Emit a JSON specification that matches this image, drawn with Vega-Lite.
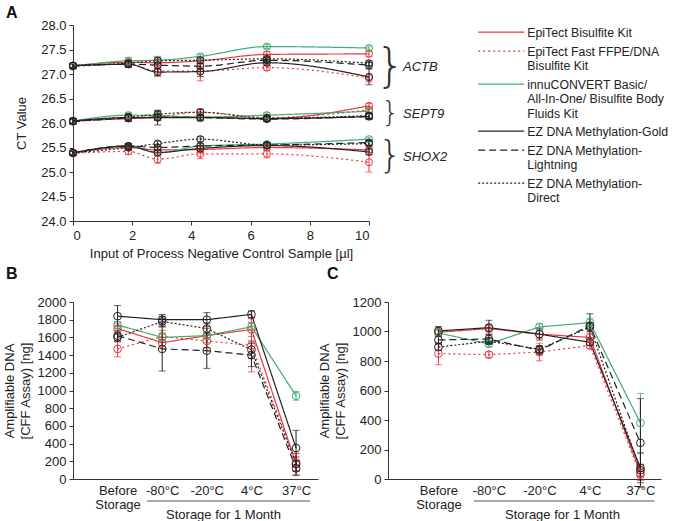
{
  "$schema": "https://vega.github.io/schema/vega-lite/v6.json",
  "padding": {"left": 3, "top": 5, "right": 0, "bottom": 0},
  "title": {"text": "A", "anchor": "start", "frame": "bounds", "fontSize": 16, "fontWeight": "bold", "font": "Liberation Sans", "offset": -2, "dx": 3, "color": "#111"},
  "config": {
    "font": "Liberation Sans",
    "view": {"stroke": null},
    "axis": {"labelFont": "Liberation Sans", "titleFont": "Liberation Sans", "labelFontSize": 13, "titleFontSize": 13, "titleFontWeight": "normal", "labelColor": "#222", "titleColor": "#222", "domainColor": "#333", "tickColor": "#333", "grid": false, "tickSize": 4, "labelLineHeight": 14, "titleLineHeight": 16, "labelOverlap": false},
    "legend": {"labelFont": "Liberation Sans", "labelFontSize": 12.3, "labelColor": "#222", "labelLimit": 300}
  },
  "datasets": {
    "ctA": [
      {"kit": "EpiTect Bisulfite Kit", "gene": "ACTB", "input": [0,1.87,2.86,4.3,6.55,10], "ct": [27.17,27.24,27.23,27.27,27.4,27.41], "err": [0.04,0.06,0.13,0.06,0.06,0.05]},
      {"kit": "EpiTect Bisulfite Kit", "gene": "SEPT9", "input": [0,1.87,2.86,4.3,6.55,10], "ct": [26.04,26.09,26.11,26.12,26.09,26.35], "err": [0.05,0.06,0.06,0.05,0.05,0.05]},
      {"kit": "EpiTect Bisulfite Kit", "gene": "SHOX2", "input": [0,1.87,2.86,4.3,6.55,10], "ct": [25.39,25.5,25.45,25.46,25.5,25.45], "err": [0.04,0.05,0.06,0.06,0.06,0.05]},
      {"kit": "EpiTect Fast FFPE/DNA Bisulfite Kit", "gene": "ACTB", "input": [0,1.87,2.86,4.3,6.55,10], "ct": [27.15,27.2,27.06,27.06,27.13,26.92], "err": [0.04,0.07,0.1,0.2,0.06,0.08]},
      {"kit": "EpiTect Fast FFPE/DNA Bisulfite Kit", "gene": "SEPT9", "input": [0,1.87,2.86,4.3,6.55,10], "ct": [26.03,26.1,26.13,26.22,26.11,26.27], "err": [0.06,0.07,0.07,0.06,0.06,0.06]},
      {"kit": "EpiTect Fast FFPE/DNA Bisulfite Kit", "gene": "SHOX2", "input": [0,1.87,2.86,4.3,6.55,10], "ct": [25.38,25.42,25.26,25.37,25.37,25.2], "err": [0.04,0.06,0.08,0.1,0.08,0.2]},
      {"kit": "innuCONVERT Basic/ All-In-One/ Bisulfite Body Fluids Kit", "gene": "ACTB", "input": [0,1.87,2.86,4.3,6.55,10], "ct": [27.15,27.27,27.28,27.36,27.56,27.53], "err": [0.06,0.07,0.06,0.04,0.04,0.04]},
      {"kit": "innuCONVERT Basic/ All-In-One/ Bisulfite Body Fluids Kit", "gene": "SEPT9", "input": [0,1.87,2.86,4.3,6.55,10], "ct": [26.04,26.16,26.15,26.12,26.16,26.24], "err": [0.05,0.05,0.1,0.05,0.05,0.05]},
      {"kit": "innuCONVERT Basic/ All-In-One/ Bisulfite Body Fluids Kit", "gene": "SHOX2", "input": [0,1.87,2.86,4.3,6.55,10], "ct": [25.39,25.53,25.39,25.53,25.57,25.67], "err": [0.04,0.04,0.05,0.05,0.04,0.04]},
      {"kit": "EZ DNA Methylation-Gold", "gene": "ACTB", "input": [0,1.87,2.86,4.3,6.55,10], "ct": [27.17,27.2,27.04,27.05,27.23,26.94], "err": [0.05,0.06,0.08,0.1,0.06,0.16]},
      {"kit": "EZ DNA Methylation-Gold", "gene": "SEPT9", "input": [0,1.87,2.86,4.3,6.55,10], "ct": [26.04,26.11,26.11,26.11,26.09,26.13], "err": [0.06,0.08,0.15,0.07,0.06,0.06]},
      {"kit": "EZ DNA Methylation-Gold", "gene": "SHOX2", "input": [0,1.87,2.86,4.3,6.55,10], "ct": [25.39,25.53,25.4,25.48,25.54,25.41], "err": [0.04,0.05,0.06,0.05,0.05,0.06]},
      {"kit": "EZ DNA Methylation-Lightning", "gene": "ACTB", "input": [0,1.87,2.86,4.3,6.55,10], "ct": [27.17,27.2,27.18,27.16,27.28,27.18], "err": [0.04,0.05,0.06,0.05,0.05,0.06]},
      {"kit": "EZ DNA Methylation-Lightning", "gene": "SEPT9", "input": [0,1.87,2.86,4.3,6.55,10], "ct": [26.03,26.1,26.12,26.11,26.08,26.14], "err": [0.05,0.06,0.06,0.05,0.05,0.05]},
      {"kit": "EZ DNA Methylation-Lightning", "gene": "SHOX2", "input": [0,1.87,2.86,4.3,6.55,10], "ct": [25.39,25.53,25.5,25.53,25.55,25.6], "err": [0.04,0.05,0.05,0.05,0.05,0.05]},
      {"kit": "EZ DNA Methylation-Direct", "gene": "ACTB", "input": [0,1.87,2.86,4.3,6.55,10], "ct": [27.17,27.22,27.27,27.28,27.31,27.22], "err": [0.04,0.05,0.06,0.06,0.05,0.05]},
      {"kit": "EZ DNA Methylation-Direct", "gene": "SEPT9", "input": [0,1.87,2.86,4.3,6.55,10], "ct": [26.04,26.12,26.18,26.22,26.1,26.15], "err": [0.04,0.05,0.06,0.06,0.05,0.05]},
      {"kit": "EZ DNA Methylation-Direct", "gene": "SHOX2", "input": [0,1.87,2.86,4.3,6.55,10], "ct": [25.39,25.5,25.58,25.67,25.55,25.58], "err": [0.04,0.05,0.05,0.05,0.05,0.05]}
    ],
    "braces": [
      {"gene": "ACTB", "ct": 27.14},
      {"gene": "SEPT9", "ct": 26.19},
      {"gene": "SHOX2", "ct": 25.3}
    ],
    "amtB": [
      {"kit": "EpiTect Bisulfite Kit", "storage": ["Before Storage","-80°C","-20°C","4°C","37°C"], "dna": [1700,1540,1620,1690,170], "err": [60,60,80,80,120]},
      {"kit": "EpiTect Fast FFPE/DNA Bisulfite Kit", "storage": ["Before Storage","-80°C","-20°C","4°C","37°C"], "dna": [1470,1610,1560,1510,190], "err": [90,70,80,300,100]},
      {"kit": "innuCONVERT Basic/ All-In-One/ Bisulfite Body Fluids Kit", "storage": ["Before Storage","-80°C","-20°C","4°C","37°C"], "dna": [1740,1600,1620,1720,940], "err": [40,50,40,40,50]},
      {"kit": "EZ DNA Methylation-Gold", "storage": ["Before Storage","-80°C","-20°C","4°C","37°C"], "dna": [1840,1800,1800,1860,350], "err": [120,60,80,40,200]},
      {"kit": "EZ DNA Methylation-Lightning", "storage": ["Before Storage","-80°C","-20°C","4°C","37°C"], "dna": [1620,1470,1450,1400,120], "err": [60,250,200,130,80]},
      {"kit": "EZ DNA Methylation-Direct", "storage": ["Before Storage","-80°C","-20°C","4°C","37°C"], "dna": [1600,1780,1700,1460,170], "err": [50,60,60,100,80]}
    ],
    "amtC": [
      {"kit": "EpiTect Bisulfite Kit", "storage": ["Before Storage","-80°C","-20°C","4°C","37°C"], "dna": [995,1020,982,960,40], "err": [30,30,30,30,30]},
      {"kit": "EpiTect Fast FFPE/DNA Bisulfite Kit", "storage": ["Before Storage","-80°C","-20°C","4°C","37°C"], "dna": [850,843,861,905,30], "err": [75,20,60,20,40]},
      {"kit": "innuCONVERT Basic/ All-In-One/ Bisulfite Body Fluids Kit", "storage": ["Before Storage","-80°C","-20°C","4°C","37°C"], "dna": [990,916,1031,1060,380], "err": [20,20,20,30,200]},
      {"kit": "EZ DNA Methylation-Gold", "storage": ["Before Storage","-80°C","-20°C","4°C","37°C"], "dna": [1004,1026,982,927,75], "err": [30,50,40,20,100]},
      {"kit": "EZ DNA Methylation-Lightning", "storage": ["Before Storage","-80°C","-20°C","4°C","37°C"], "dna": [943,949,872,1040,245], "err": [25,30,30,80,300]},
      {"kit": "EZ DNA Methylation-Direct", "storage": ["Before Storage","-80°C","-20°C","4°C","37°C"], "dna": [894,935,880,1030,60], "err": [20,20,20,30,40]}
    ]
  },
  "spacing": 6,
  "align": "none",
  "resolve": {"legend": {"color": "independent", "strokeDash": "independent"}},
  "vconcat": [
    {
      "width": 296,
      "height": 196,
      "layer": [
        {
          "data": {"name": "ctA"},
          "transform": [{"flatten": ["input", "ct", "err"]}],
          "encoding": {
            "x": {"field": "input", "type": "quantitative", "scale": {"domain": [0, 10], "nice": false}, "axis": {"values": [0,2,4,6,8,10], "tickCount": 20, "format": "d", "labelOverlap": false, "title": "Input of Process Negative Control Sample [µl]", "labelPadding": 4, "titlePadding": 5}},
            "y": {"field": "ct", "type": "quantitative", "scale": {"domain": [24, 28], "nice": false, "zero": false}, "axis": {"values": [24,24.5,25,25.5,26,26.5,27,27.5,28], "tickCount": 20, "labelOverlap": false, "format": ".1f", "title": "CT Value", "labelPadding": 3, "titlePadding": 12}},
            "color": {
              "field": "kit", "type": "nominal",
              "scale": {"domain": ["EpiTect Bisulfite Kit", "EpiTect Fast FFPE/DNA Bisulfite Kit", "innuCONVERT Basic/ All-In-One/ Bisulfite Body Fluids Kit", "EZ DNA Methylation-Gold", "EZ DNA Methylation-Lightning", "EZ DNA Methylation-Direct"], "range": ["#e8383d", "#e8383d", "#3fae72", "#222222", "#222222", "#222222"]},
              "legend": {"orient": "none", "legendX": 422, "legendY": 1, "title": null, "symbolType": "M-23,0H23", "symbolSize": 4, "symbolStrokeWidth": 1.2, "labelOffset": 20, "rowPadding": 5, "padding": 0, "labelBaseline": "top", "encode": {"labels": {"update": {"dy": {"value": -5}, "lineHeight": {"value": 14.2}}}}, "labelExpr": "datum.label == 'EpiTect Fast FFPE/DNA Bisulfite Kit' ? ['EpiTect Fast FFPE/DNA', 'Bisulfite Kit'] : datum.label == 'innuCONVERT Basic/ All-In-One/ Bisulfite Body Fluids Kit' ? ['innuCONVERT Basic/', 'All-In-One/ Bisulfite Body', 'Fluids Kit'] : datum.label == 'EZ DNA Methylation-Lightning' ? ['EZ DNA Methylation-', 'Lightning'] : datum.label == 'EZ DNA Methylation-Direct' ? ['EZ DNA Methylation-', 'Direct'] : datum.label"}
            }
          },
          "layer": [
            {
              "mark": {"type": "line", "interpolate": "monotone", "strokeWidth": 1.2},
              "encoding": {
                "detail": {"field": "gene"},
                "strokeDash": {
                  "field": "kit", "type": "nominal",
                  "scale": {"domain": ["EpiTect Bisulfite Kit", "EpiTect Fast FFPE/DNA Bisulfite Kit", "innuCONVERT Basic/ All-In-One/ Bisulfite Body Fluids Kit", "EZ DNA Methylation-Gold", "EZ DNA Methylation-Lightning", "EZ DNA Methylation-Direct"], "range": [[1,0],[2,3],[1,0],[1,0],[7,4],[2,2]]},
                  "legend": {"orient": "none", "legendX": 422, "legendY": 1, "title": null, "symbolType": "M-23,0H23", "symbolSize": 4, "symbolStrokeWidth": 1.2, "labelOffset": 20, "rowPadding": 5, "padding": 0, "labelBaseline": "top", "encode": {"labels": {"update": {"dy": {"value": -5}, "lineHeight": {"value": 14.2}}}}, "labelExpr": "datum.label == 'EpiTect Fast FFPE/DNA Bisulfite Kit' ? ['EpiTect Fast FFPE/DNA', 'Bisulfite Kit'] : datum.label == 'innuCONVERT Basic/ All-In-One/ Bisulfite Body Fluids Kit' ? ['innuCONVERT Basic/', 'All-In-One/ Bisulfite Body', 'Fluids Kit'] : datum.label == 'EZ DNA Methylation-Lightning' ? ['EZ DNA Methylation-', 'Lightning'] : datum.label == 'EZ DNA Methylation-Direct' ? ['EZ DNA Methylation-', 'Direct'] : datum.label"}
                }
              }
            },
            {
              "mark": {"type": "errorbar", "ticks": true, "size": 7, "thickness": 1},
              "encoding": {"yError": {"field": "err"}}
            },
            {
              "mark": {"type": "point", "filled": false, "size": 50, "strokeWidth": 1, "opacity": 1}
            }
          ]
        },
        {
          "data": {"name": "braces"},
          "transform": [{"filter": "datum.gene == 'ACTB'"}],
          "mark": {"type": "text", "font": "DejaVu Sans", "fontWeight": 200, "fontSize": 46, "baseline": "middle", "align": "center", "color": "#333"},
          "encoding": {"x": {"datum": 10.72, "type": "quantitative"}, "y": {"field": "ct", "type": "quantitative"}, "text": {"value": "}"}}
        },
        {
          "data": {"name": "braces"},
          "transform": [{"filter": "datum.gene == 'SEPT9'"}],
          "mark": {"type": "text", "font": "DejaVu Sans", "fontWeight": 200, "fontSize": 28, "baseline": "middle", "align": "center", "color": "#333"},
          "encoding": {"x": {"datum": 10.72, "type": "quantitative"}, "y": {"field": "ct", "type": "quantitative"}, "text": {"value": "}"}}
        },
        {
          "data": {"name": "braces"},
          "transform": [{"filter": "datum.gene == 'SHOX2'"}],
          "mark": {"type": "text", "font": "DejaVu Sans", "fontWeight": 200, "fontSize": 37, "baseline": "middle", "align": "center", "color": "#333"},
          "encoding": {"x": {"datum": 10.72, "type": "quantitative"}, "y": {"field": "ct", "type": "quantitative"}, "text": {"value": "}"}}
        },
        {
          "data": {"name": "braces"},
          "mark": {"type": "text", "font": "Liberation Sans", "fontStyle": "italic", "fontSize": 13, "baseline": "middle", "align": "left", "color": "#222"},
          "encoding": {"x": {"datum": 11.15, "type": "quantitative"}, "y": {"field": "ct", "type": "quantitative"}, "text": {"field": "gene"}}
        }
      ]
    },
    {
      "spacing": 0,
      "hconcat": [
        {
          "width": 245,
          "height": 177,
          "title": {"text": "B", "anchor": "start", "frame": "bounds", "fontSize": 16, "fontWeight": "bold", "font": "Liberation Sans", "offset": 14, "dx": 3, "color": "#111"},
          "layer": [
            {
              "data": {"name": "amtB"},
              "transform": [{"flatten": ["storage", "dna", "err"]}],
              "encoding": {
                "x": {"field": "storage", "type": "ordinal", "sort": null, "scale": {"type": "point", "domain": ["Before Storage","-80°C","-20°C","4°C","37°C"], "padding": 0.745, "align": 0.67}, "axis": {"title": "Storage for 1 Month", "titleX": 150, "titleY": 35, "titleBaseline": "middle", "ticks": false, "labelAngle": 0, "labelPadding": 5, "labelOverlap": false, "labelExpr": "datum.value == 'Before Storage' ? ['Before', 'Storage'] : datum.value"}},
                "y": {"field": "dna", "type": "quantitative", "scale": {"domain": [0, 2000], "nice": false}, "axis": {"values": [0,200,400,600,800,1000,1200,1400,1600,1800,2000], "tickCount": 20, "labelOverlap": false, "format": "d", "title": ["Amplifiable DNA", "[CFF Assay) [ng]"], "labelPadding": 3, "titlePadding": 5}},
                "color": {"field": "kit", "type": "nominal", "legend": null, "scale": {"domain": ["EpiTect Bisulfite Kit", "EpiTect Fast FFPE/DNA Bisulfite Kit", "innuCONVERT Basic/ All-In-One/ Bisulfite Body Fluids Kit", "EZ DNA Methylation-Gold", "EZ DNA Methylation-Lightning", "EZ DNA Methylation-Direct"], "range": ["#e8383d", "#e8383d", "#3fae72", "#222222", "#222222", "#222222"]}}
              },
              "layer": [
                {
                  "mark": {"type": "line", "strokeWidth": 1.2},
                  "encoding": {"strokeDash": {"field": "kit", "type": "nominal", "legend": null, "scale": {"domain": ["EpiTect Bisulfite Kit", "EpiTect Fast FFPE/DNA Bisulfite Kit", "innuCONVERT Basic/ All-In-One/ Bisulfite Body Fluids Kit", "EZ DNA Methylation-Gold", "EZ DNA Methylation-Lightning", "EZ DNA Methylation-Direct"], "range": [[1,0],[2,3],[1,0],[1,0],[7,4],[2,2]]}}}
                },
                {"mark": {"type": "errorbar", "ticks": true, "size": 7, "thickness": 1}, "encoding": {"yError": {"field": "err"}}},
                {"mark": {"type": "point", "filled": false, "size": 60, "strokeWidth": 1, "opacity": 1}}
              ]
            },
            {
              "data": {"values": [{"label": "Storage for 1 Month"}]},
              "mark": {"type": "rule", "color": "#555", "strokeWidth": 1, "yOffset": 22, "xOffset": -15, "x2Offset": 14},
              "encoding": {"x": {"datum": "-80°C", "type": "ordinal"}, "x2": {"datum": "37°C"}, "y": {"datum": 0, "type": "quantitative"}}
            }
          ]
        },
        {
          "width": 273,
          "height": 177,
          "title": {"text": "C", "anchor": "start", "frame": "bounds", "fontSize": 16, "fontWeight": "bold", "font": "Liberation Sans", "offset": 14, "dx": 9, "color": "#111"},
          "layer": [
            {
              "data": {"name": "amtC"},
              "transform": [{"flatten": ["storage", "dna", "err"]}],
              "encoding": {
                "x": {"field": "storage", "type": "ordinal", "sort": null, "scale": {"type": "point", "domain": ["Before Storage","-80°C","-20°C","4°C","37°C"], "padding": 0.703, "align": 0.71}, "axis": {"title": "Storage for 1 Month", "titleX": 174, "titleY": 35, "titleBaseline": "middle", "ticks": false, "labelAngle": 0, "labelPadding": 5, "labelOverlap": false, "labelExpr": "datum.value == 'Before Storage' ? ['Before', 'Storage'] : datum.value"}},
                "y": {"field": "dna", "type": "quantitative", "scale": {"domain": [0, 1200], "nice": false}, "axis": {"values": [0,200,400,600,800,1000,1200], "tickCount": 20, "labelOverlap": false, "format": "d", "title": ["Amplifiable DNA", "[CFF Assay) [ng]"], "labelPadding": 3, "titlePadding": 5}},
                "color": {"field": "kit", "type": "nominal", "legend": null, "scale": {"domain": ["EpiTect Bisulfite Kit", "EpiTect Fast FFPE/DNA Bisulfite Kit", "innuCONVERT Basic/ All-In-One/ Bisulfite Body Fluids Kit", "EZ DNA Methylation-Gold", "EZ DNA Methylation-Lightning", "EZ DNA Methylation-Direct"], "range": ["#e8383d", "#e8383d", "#3fae72", "#222222", "#222222", "#222222"]}}
              },
              "layer": [
                {
                  "mark": {"type": "line", "strokeWidth": 1.2},
                  "encoding": {"strokeDash": {"field": "kit", "type": "nominal", "legend": null, "scale": {"domain": ["EpiTect Bisulfite Kit", "EpiTect Fast FFPE/DNA Bisulfite Kit", "innuCONVERT Basic/ All-In-One/ Bisulfite Body Fluids Kit", "EZ DNA Methylation-Gold", "EZ DNA Methylation-Lightning", "EZ DNA Methylation-Direct"], "range": [[1,0],[2,3],[1,0],[1,0],[7,4],[2,2]]}}}
                },
                {"mark": {"type": "errorbar", "ticks": true, "size": 7, "thickness": 1}, "encoding": {"yError": {"field": "err"}}},
                {"mark": {"type": "point", "filled": false, "size": 60, "strokeWidth": 1, "opacity": 1}}
              ]
            },
            {
              "data": {"values": [{"label": "Storage for 1 Month"}]},
              "mark": {"type": "rule", "color": "#555", "strokeWidth": 1, "yOffset": 22, "xOffset": -15, "x2Offset": 14},
              "encoding": {"x": {"datum": "-80°C", "type": "ordinal"}, "x2": {"datum": "37°C"}, "y": {"datum": 0, "type": "quantitative"}}
            }
          ]
        }
      ]
    }
  ]
}
